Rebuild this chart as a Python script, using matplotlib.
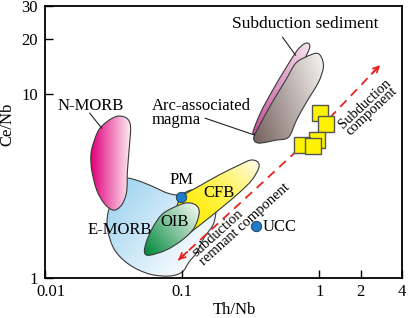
import numpy as np
import matplotlib
matplotlib.use("Agg")
import matplotlib.pyplot as plt
import matplotlib.transforms as mtransforms
from matplotlib.path import Path
from matplotlib.patches import PathPatch
from matplotlib.colors import to_rgb
from matplotlib.ticker import NullLocator

plt.rcParams["font.family"] = ["Liberation Serif", "DejaVu Serif"]
plt.rcParams["font.size"] = 12

# field outlines, Th/Nb vs Ce/Nb
nmorb_th = [0.0223, 0.0246, 0.0286, 0.0338, 0.0393, 0.0420, 0.0413, 0.0399,
            0.0393, 0.0361, 0.0316, 0.0272, 0.0238, 0.0219, 0.0216]
nmorb_ce = [5.28, 6.37, 7.13, 7.59, 7.41, 6.70, 5.28, 3.86,
            2.93, 2.49, 2.34, 2.53, 3.01, 3.86, 4.66]

emorb_th = [0.0338, 0.0399, 0.0513, 0.0648, 0.0779, 0.0951, 0.122, 0.171, 0.171, 0.144, 0.128,
            0.112, 0.100, 0.0805, 0.0577, 0.0413, 0.0322, 0.0286, 0.0286, 0.0306, 0.0322]
emorb_ce = [3.41, 3.50, 3.32, 3.08, 2.90, 2.83, 3.01, 2.65, 2.02, 1.65, 1.38,
            1.22, 1.078, 1.025, 1.051, 1.18, 1.42, 1.82, 2.20, 2.65, 3.08]

oib_th = [0.0705, 0.0846, 0.107, 0.126, 0.133, 0.122, 0.100, 0.0766, 0.0577, 0.0531, 0.0548, 0.0607]
oib_ce = [2.20, 2.40, 2.56, 2.49, 2.26, 1.87, 1.61, 1.42, 1.33, 1.38, 1.57, 1.87]

cfb_th = [0.092, 0.1033, 0.133, 0.185, 0.259, 0.316, 0.356, 0.361,
          0.322, 0.259, 0.192, 0.144, 0.116, 0.1016, 0.0951, 0.092]
cfb_ce = [2.49, 2.83, 3.16, 3.63, 4.11, 4.38, 4.27, 3.96,
          3.41, 2.90, 2.40, 2.02, 1.78, 1.65, 1.78, 2.07]

sed_th = [0.327, 0.374, 0.456, 0.567, 0.681, 0.766, 0.832, 0.847, 0.766, 0.596, 0.464, 0.374]
sed_ce = [6.14, 7.98, 10.5, 13.8, 17.1, 18.7, 18.9, 17.8, 15.3, 11.9, 8.71, 6.53]

arc_th = [0.951, 1.033, 1.069, 0.984, 0.805, 0.681, 0.596, 0.480,
          0.361, 0.332, 0.361, 0.449, 0.567, 0.670, 0.792]
arc_ce = [16.7, 15.9, 14.0, 11.6, 9.05, 7.22, 5.84, 5.62,
          5.42, 5.77, 6.62, 8.93, 11.9, 14.7, 15.9]

# reference points
pm_th, pm_ce = 0.0984, 2.75
ucc_th, ucc_ce = 0.343, 1.92

# samples
sample_th = [1.016, 1.124, 0.968, 0.753, 0.905]
sample_ce = [7.88, 6.87, 5.62, 5.28, 5.22]

# trend arrows: middle point, lower tip, upper tip
trend_th = [0.832, 0.0935, 2.77]
trend_ce = [5.62, 1.25, 14.4]

xticks = [0.01, 0.1, 1, 2, 4]
xtick_labels = ["0.01", "0.1", "1", "2", "4"]
yticks = [1, 10, 20, 30]
ytick_labels = ["1", "10", "20", "30"]

fig = plt.figure(figsize=(4.08, 3.18), dpi=100)
ax = fig.add_axes([0.1103, 0.1258, 0.875, 0.8538])
ax.set_xscale("log")
ax.set_yscale("log")
ax.set_xlim(0.01, 4)
ax.set_ylim(1, 30)
ax.set_autoscale_on(False)


def field(xs, ys, c0, c1, direction, z, gamma=1.0):
    # smooth closed outline (bezier through the points), filled with a gradient
    pts = ax.transAxes.inverted().transform(ax.transData.transform(np.column_stack([xs, ys])))
    n = len(pts)
    verts = [pts[0]]
    codes = [Path.MOVETO]
    for i in range(n):
        p0, p1, p2, p3 = pts[i - 1], pts[i], pts[(i + 1) % n], pts[(i + 2) % n]
        verts += [p1 + (p2 - p0) / 6, p2 - (p3 - p1) / 6, p2]
        codes += [Path.CURVE4] * 3
    verts.append(pts[0])
    codes.append(Path.CLOSEPOLY)
    patch = PathPatch(Path(verts, codes), transform=ax.transAxes, facecolor="none",
                      edgecolor="#3a3a3a", lw=0.8, zorder=z + 0.1)
    ax.add_patch(patch)
    x0, y0 = pts.min(0) - 0.02
    x1, y1 = pts.max(0) + 0.02
    gx, gy = np.meshgrid(np.linspace(x0, x1, 200), np.linspace(y0, y1, 200))
    d = np.array(direction, float)
    proj = pts @ d
    t = (gx * d[0] + gy * d[1] - proj.min()) / (proj.max() - proj.min())
    t = np.clip(t, 0, 1) ** gamma
    img = (1 - t)[..., None] * np.array(to_rgb(c0)) + t[..., None] * np.array(to_rgb(c1))
    im = ax.imshow(img, extent=(x0, x1, y0, y1), origin="lower", transform=ax.transAxes,
                   aspect="auto", interpolation="bilinear", zorder=z)
    im.set_clip_path(patch)


field(emorb_th, emorb_ce, "#9ed3f0", "#f6fbfe", (1, -0.6), 1)
field(nmorb_th, nmorb_ce, "#e2007a", "#fdeef5", (1, 0), 2)
field(cfb_th, cfb_ce, "#ffee00", "#fffbec", (1, 0.8), 3, gamma=1.8)
field(oib_th, oib_ce, "#00893a", "#f0f5f0", (1, 0.6), 4)
field(sed_th, sed_ce, "#c54f97", "#f5e2ee", (1, 0.3), 2)
field(arc_th, arc_ce, "#76635e", "#f3f1f1", (1, 0.25), 3)

# pointer lines
ax.plot([0.0212, 0.0259], [7.88, 6.53], color="#222222", lw=0.8, zorder=6)
ax.plot([0.147, 0.338], [7.40, 5.99], color="#222222", lw=0.8, zorder=6)
ax.plot([0.539, 0.670], [20.4, 16.3], color="#222222", lw=0.8, zorder=6)

# dashed trend arrows
red = "#e52421"
for k in (1, 2):
    ax.plot([trend_th[0], trend_th[k]], [trend_ce[0], trend_ce[k]], color=red,
            lw=1.3, ls=(0, (5, 3.5)), zorder=5)
ax.annotate("", xy=(trend_th[1], trend_ce[1]), xytext=(6.5, 6), textcoords="offset points",
            arrowprops=dict(arrowstyle="->", color=red, lw=1.3, shrinkA=0, shrinkB=0,
                            mutation_scale=10), zorder=5)
ax.annotate("", xy=(trend_th[2], trend_ce[2]), xytext=(-6, -6.3), textcoords="offset points",
            arrowprops=dict(arrowstyle="->", color=red, lw=1.3, shrinkA=0, shrinkB=0,
                            mutation_scale=10), zorder=5)

ax.plot(sample_th, sample_ce, ls="none", marker="s", ms=11, mfc="#fff200",
        mec="#555555", mew=1, zorder=8)
ax.plot([pm_th, ucc_th], [pm_ce, ucc_ce], ls="none", marker="o", ms=7.5, mfc="#1f7cc8",
        mec="#1a3550", mew=0.6, zorder=8)

# labels
ax.text(0.792, 24.0, "Subduction sediment", ha="center", va="center", fontsize=12.5, zorder=9)
ax.text(0.0216, 8.61, "N-MORB", ha="center", va="center", zorder=9)
ax.text(0.0596, 7.88, "Arc-associated\nmagma", ha="left", va="center", linespacing=0.85, zorder=9)
ax.text(0.0984, 3.41, "PM", ha="center", va="center", zorder=9)
ax.text(0.0350, 1.82, "E-MORB", ha="center", va="center", zorder=9)
ax.text(0.0875, 2.02, "OIB", ha="center", va="center", zorder=9)
ax.text(0.185, 2.90, "CFB", ha="center", va="center", zorder=9)
ax.text(0.386, 1.89, "UCC", ha="left", va="center", zorder=9)
ax.text(2.265, 8.45, "Subduction\ncomponent", ha="center", va="center", rotation=43,
        rotation_mode="anchor", fontsize=10.5, linespacing=0.8, zorder=9)
ax.text(0.266, 2.07, "subduction\nremnant component", ha="center", va="center", rotation=42,
        rotation_mode="anchor", multialignment="left", fontsize=10.5, linespacing=0.85, zorder=9)

ax.set_xticks(xticks)
ax.set_xticklabels(xtick_labels)
ax.set_yticks(yticks)
ax.set_yticklabels(ytick_labels)
ax.xaxis.set_minor_locator(NullLocator())
ax.yaxis.set_minor_locator(NullLocator())
ax.tick_params(direction="in", length=6, width=1, labelsize=12)
ax.tick_params(axis="x", pad=4.5)
ax.tick_params(axis="y", pad=5)
for s in ax.spines.values():
    s.set_linewidth(1.3)

# first x label sits a little right of its tick, clear of the "1" on the y axis
first = ax.get_xticklabels()[0]
first.set_transform(first.get_transform() + mtransforms.ScaledTranslation(6 / 100, 0, fig.dpi_scale_trans))

ax.set_xlabel("Th/Nb", fontsize=12)
ax.set_ylabel("Ce/Nb", fontsize=12)
ax.xaxis.set_label_coords(0.532, -0.089)
ax.yaxis.set_label_coords(-0.083, 0.565)

fig.savefig("out.png", dpi=100)
